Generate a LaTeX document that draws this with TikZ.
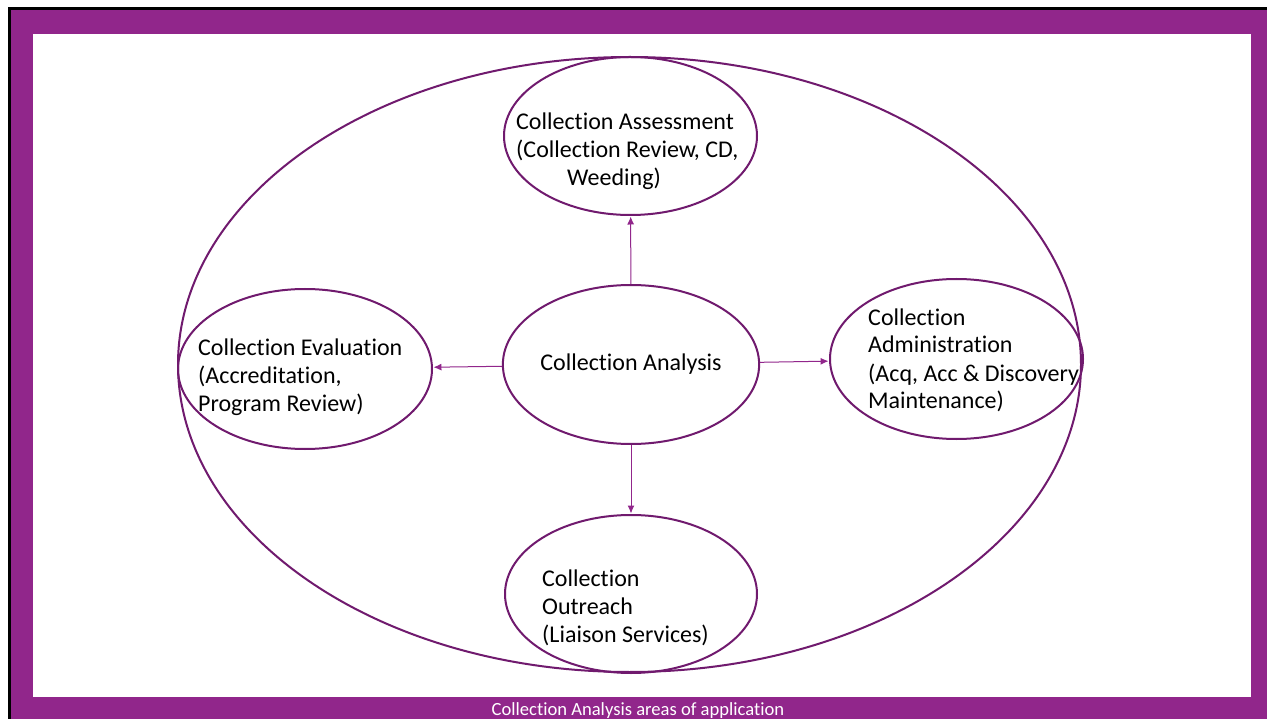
\documentclass[tikz,border=0pt]{standalone}
\usepackage{fontspec}
\setmainfont{Carlito}[Ligatures=NoCommon]
\usetikzlibrary{arrows.meta,shapes.geometric}
\definecolor{framepurple}{RGB}{145,38,139}
\definecolor{ringpurple}{RGB}{112,26,110}
\begin{document}
\begin{tikzpicture}[x=1pt,y=-1pt,
	bubble/.style={ellipse, draw=ringpurple, line width=2pt, inner sep=0pt},
	link/.style={-{Latex[length=8pt,width=7pt]}, draw=framepurple, line width=1pt, shorten >=0.5pt},
	txt/.style={anchor=base west, align=left, inner sep=0pt, font=\fontsize{24}{28}\selectfont}]
		\useasboundingbox (0,0) rectangle (1267,719);
		\fill [white] (0,0) rectangle (1267,719);
		\fill [black] (8,7) rectangle (1267,719);
		\fill [framepurple] (11,10) rectangle (1267,719);
		\fill [white] (33,34) rectangle (1251,697);
		\node [bubble, minimum width=903, minimum height=615] (area) at (629.5,364.5) {};
		\node [bubble, minimum width=253, minimum height=158] (assess) at (630.5,136) {};
		\node [bubble, minimum width=252, minimum height=159, font=\fontsize{24}{28}\selectfont] (ana) at (631,364.5) {Collection Analysis};
		\node [bubble, minimum width=254, minimum height=160] (eval) at (305,369) {};
		\node [bubble, minimum width=253, minimum height=160] (admin) at (956.5,359) {};
		\node [bubble, minimum width=252, minimum height=158] (outreach) at (631,594) {};
		\node [txt] (assesstxt) at (516,186) {Collection Assessment\\(Collection Review, CD,\\\hspace*{51pt}Weeding)};
		\node [txt] (evaltxt) at (198,411) {Collection Evaluation\\(Accreditation,\\Program Review)};
		\node [txt] (admintxt) at (868,409) {Collection\\Administration\\(Acq, Acc \& Discovery\\Maintenance)};
		\node [txt] (outreachtxt) at (542,642) {Collection\\Outreach\\(Liaison Services)};
		\draw [link] (ana) -- (assess);
		\draw [link] (ana) -- (eval);
		\draw [link] (ana) -- (admin);
		\draw [link] (ana) -- (outreach);
		\node [text=white, font=\fontsize{18.6}{20}\selectfont] (caption) at (638,711) {Collection Analysis areas of application};
		\end{tikzpicture}
\end{document}
